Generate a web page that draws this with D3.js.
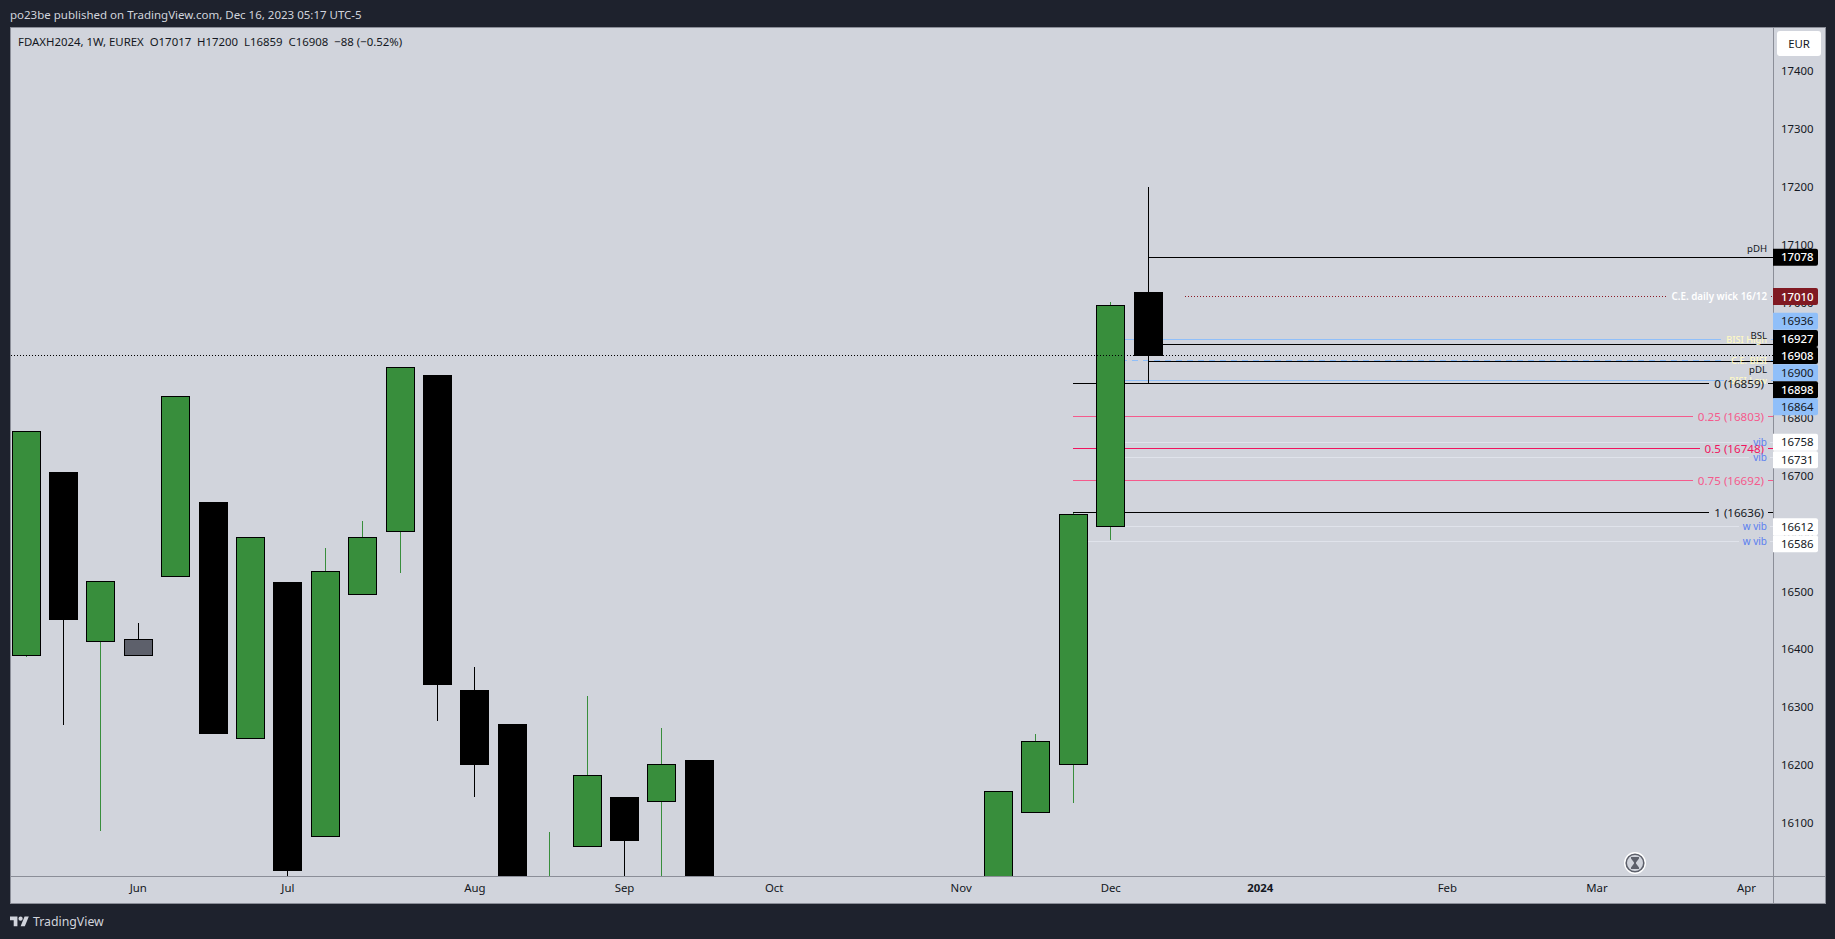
<!DOCTYPE html>
<html lang="en">
	<head>
		<meta charset="utf-8">
		<title>FDAXH2024 weekly</title>
		<script src="https://cdn.jsdelivr.net/npm/d3@7"></script>
		<style>
			html, body { margin: 0; padding: 0; background: #1e222d; overflow: hidden; }
			text { font-family: "Noto Sans", sans-serif; white-space: pre; }
		</style>
	</head>
	<body>
		<script>

			//Weekly bars that can be seen in the window (the ones in Oct are below it)
			let barDates = ["2023-05-15","2023-05-22","2023-05-29","2023-06-05","2023-06-12","2023-06-19","2023-06-26",
				"2023-07-03","2023-07-10","2023-07-17","2023-07-24","2023-07-31","2023-08-07","2023-08-14","2023-08-21",
				"2023-08-28","2023-09-04","2023-09-11","2023-09-18","2023-11-13","2023-11-20","2023-11-27","2023-12-04","2023-12-11"];
			let opens  = [16390,16705,16413,16390,16526,16653,16247,16516,16076,16496,16604,16873,16328,16269,15900,16060,16144,16137,16208,15950,16119,16201,16613,17017];
			let highs  = [16777,16705,16517,16445,16838,16653,16594,16516,16575,16622,16888,16873,16370,16269,16084,16319,16144,16264,16208,16154,16253,16636,17001,17200];
			let lows   = [16386,16269,16086,16390,16526,16254,16247,15990,16076,16496,16532,16275,16145,15950,15880,16060,15990,15990,15950,15950,16119,16134,16589,16859];
			let closes = [16777,16450,16517,16417,16838,16254,16594,16017,16535,16594,16888,16339,16200,15960,15990,16182,16069,16201,15960,16154,16241,16633,16995,16908];
			let grayBars = ["2023-06-05"];

			//Axis labels
			let priceTicks = [17400,17300,17200,17100,17000,16900,16800,16700,16600,16500,16400,16300,16200,16100];
			let monthDates = ["2023-06-05","2023-07-03","2023-08-07","2023-09-04","2023-10-02","2023-11-06","2023-12-04","2024-01-01","2024-02-05","2024-03-04","2024-04-01"];
			let monthLabels = ["Jun","Jul","Aug","Sep","Oct","Nov","Dec","2024","Feb","Mar","Apr"];

			//Drawn levels
			let levelValues = [17078,17010,16936,16927,16900,16898,16864,16859,16803,16748,16692,16636,16758,16731,16612,16586];
			let levelLabels = ["pDH","C.E. daily wick 16/12","BISI High","BSL","C.E. BISI","pDL","BISI Low","0 (16859)","0.25 (16803)","0.5 (16748)","0.75 (16692)","1 (16636)","vib","vib","w vib","w vib"];
			let levelKinds  = ["liq","wick","bisi","liq","ce","liq","bisi","fib0","fib","fibMid","fib","fib0","vib","vib","vib","vib"];
			let levelStarts = ["2023-12-11","2023-12-18","2023-12-04","2023-12-11","2023-12-04","2023-12-11","2023-12-04","2023-11-27","2023-11-27","2023-11-27","2023-11-27","2023-11-27","2023-12-04","2023-12-04","2023-12-04","2023-11-27"];

			//Price scale badges, top to bottom
			let badgeValues = [17078,17010,16936,16927,16908,16900,16898,16864,16758,16731,16612,16586];
			let badgeShift  = [0,0,-18,-6,0,12.5,28.4,25.7,0,2,0,2];
			let badgeKinds  = ["black","red","blue","black","black","blue","black","blue","white","white","white","white"];

			let lastClose = 16908;
			let headerText = "po23be published on TradingView.com, Dec 16, 2023 05:17 UTC-5";
			let legendText = "FDAXH2024, 1W, EUREX  O17017  H17200  L16859  C16908  \u221288 (\u22120.52%)";

			//Width and height
			let w = 1835;
			let h = 939;
			let pane = { left: 11, right: 1773, top: 28, bottom: 876, outer: 1825, foot: 903 };

			let lineStyles = {
				liq:    { color: "#000000", labelColor: "#131722", side: true, size: 9.6 },
				wick:   { color: "#8c1a26", dash: "1,2", labelColor: "#ffffff", weight: 600, pad: 5, size: 9.8 },
				bisi:   { color: "#90bff9", labelColor: "#fff9c4", pad: 5, weight: 500, size: 9.2 },
				ce:     { color: "#90bff9", dash: "6,5", labelColor: "#fff9c4", pad: 5, weight: 500, size: 9.2 },
				fib0:   { color: "#000000", labelColor: "#131722", size: 11.6, right: 9, pad: 5 },
				fib:    { color: "#f55a8c", labelColor: "#f55a8c", size: 11.6, right: 9, pad: 5 },
				fibMid: { color: "#f0145f", labelColor: "#f0145f", size: 11.6, right: 9, pad: 5 },
				vib:    { color: "#e0e3eb", labelColor: "#5a7ff0", pad: 4, size: 10 }
			};
			let badgeStyles = {
				black: { fill: "#000000", text: "#ffffff" },
				red:   { fill: "#801922", text: "#ffffff" },
				blue:  { fill: "#90bff9", text: "#131722" },
				white: { fill: "#ffffff", text: "#131722" }
			};

			let parse = s => new Date(s + "T00:00:00Z");

			let x = d3.scaleUtc()
						.domain([Date.UTC(2023, 4, 12, 6, 24), Date.UTC(2024, 3, 6, 1, 0)])
						.range([pane.left, pane.right]);

			let y = d3.scaleLinear()
						.domain([17474.7, 16007.6])
						.range([pane.top, pane.bottom]);

			let px = v => Math.floor(v) + 0.5;

			//Create SVG element
			let svg = d3.select("body")
						.append("svg")
						  .attr("width", w)
						  .attr("height", h)
						  .style("display", "block");

			svg.append("rect").attr("width", w).attr("height", h).attr("fill", "#1e222d");

			svg.append("text")
				.attr("x", 10).attr("y", 19)
				.attr("font-size", 11.5).attr("fill", "#d1d4dc")
				.text(headerText);

			//Chart frame
			svg.append("rect")
				.attr("x", 10.5).attr("y", 27.5)
				.attr("width", pane.outer - 10).attr("height", pane.foot - 27)
				.attr("fill", "#d1d4dc").attr("stroke", "#8b8e98");

			svg.append("defs").append("clipPath").attr("id", "paneClip")
				.append("rect")
				  .attr("x", pane.left).attr("y", pane.top)
				  .attr("width", pane.right - pane.left).attr("height", pane.bottom - pane.top);

			let plot = svg.append("g").attr("clip-path", "url(#paneClip)");

			//Levels, under the candles
			let levels = levelValues.map((v, i) => ({
				value: v, label: levelLabels[i], start: parse(levelStarts[i]), style: lineStyles[levelKinds[i]]
			}));
			let lineLayer = plot.append("g").attr("shape-rendering", "crispEdges");
			let candleLayer = plot.append("g").attr("shape-rendering", "crispEdges");
			let labelLayer = plot.append("g");

			levels.forEach(d => {
				let s = d.style;
				let yy = px(y(d.value));
				let textRight = pane.right - (s.right || 6);
				let label = labelLayer.append("text")
					.attr("x", textRight)
					.attr("y", s.side ? yy + (d.label === "pDL" ? 8 : -8.5) : yy)
					.attr("dy", "0.35em")
					.attr("text-anchor", "end")
					.attr("font-size", s.size)
					.attr("font-weight", s.weight || 400)
					.attr("fill", s.labelColor)
					.text(d.label);
				let segments = [[x(d.start), pane.right]];
				if (!s.side) {
					let len = label.node().getComputedTextLength();
					segments = [[x(d.start), textRight - len - s.pad], [textRight + s.pad - 1, pane.right]];
				}
				segments.forEach(seg => {
					lineLayer.append("line")
						.attr("x1", seg[0]).attr("x2", seg[1])
						.attr("y1", yy).attr("y2", yy)
						.attr("stroke", s.color)
						.attr("stroke-dasharray", s.dash || null);
				});
			});

			//Candles
			let bars = barDates.map((d, i) => ({
				date: parse(d), open: opens[i], high: highs[i], low: lows[i], close: closes[i], gray: grayBars.includes(d)
			}));

			let candles = candleLayer.selectAll("g.candle")
				.data(bars)
				.enter()
			  .append("g")
				.attr("class", "candle");

			let isUp = d => d.close > d.open && !d.gray;
			let cx = d => Math.round(x(d.date));

			candles.append("line")
				.attr("x1", d => cx(d) + 0.5).attr("x2", d => cx(d) + 0.5)
				.attr("y1", d => y(d.high)).attr("y2", d => y(d.low))
				.attr("stroke", d => isUp(d) ? "#388e3c" : "#000000");

			candles.append("rect")
				.attr("x", d => cx(d) - 13.5)
				.attr("width", 28)
				.attr("y", d => px(y(Math.max(d.open, d.close))))
				.attr("height", d => Math.abs(y(d.open) - y(d.close)))
				.attr("fill", d => d.gray ? "#5d606b" : isUp(d) ? "#388e3c" : "#000000")
				.attr("stroke", "#000000");

			//Last close, dotted over everything
			plot.append("line")
				.attr("x1", pane.left).attr("x2", pane.right)
				.attr("y1", px(y(lastClose))).attr("y2", px(y(lastClose)))
				.attr("stroke", "#000000")
				.attr("stroke-dasharray", "1,2")
				.attr("shape-rendering", "crispEdges");

			//Axes
			let yAxis = d3.axisRight(y).tickValues(priceTicks).tickFormat(d3.format("d")).tickSize(0).tickPadding(8);
			let xAxis = d3.axisBottom(x).tickValues(monthDates.map(parse)).tickFormat((d, i) => monthLabels[i]).tickSize(0).tickPadding(8);

			let yG = svg.append("g").attr("transform", `translate(${pane.right},0)`).call(yAxis);
			let xG = svg.append("g").attr("transform", `translate(0,${pane.bottom})`).call(xAxis);
			yG.select(".domain").remove();
			xG.select(".domain").remove();
			yG.selectAll("text").attr("font-size", 11.4).attr("font-family", '"Noto Sans", sans-serif').attr("fill", "#131722");
			xG.selectAll("text").attr("font-size", 11.4).attr("font-family", '"Noto Sans", sans-serif').attr("fill", "#131722")
				.attr("font-weight", (d, i) => monthLabels[i] === "2024" ? 700 : 400);

			svg.append("line").attr("x1", 11).attr("x2", pane.outer).attr("y1", pane.bottom + 0.5).attr("y2", pane.bottom + 0.5)
				.attr("stroke", "#8b8e98");
			svg.append("line").attr("x1", pane.right + 0.5).attr("x2", pane.right + 0.5).attr("y1", 28).attr("y2", pane.foot)
				.attr("stroke", "#8b8e98");

			//Price badges
			let badges = svg.append("g").selectAll("g")
				.data(badgeValues)
				.enter()
			  .append("g")
				.attr("transform", (d, i) => `translate(${pane.right},${y(d) + badgeShift[i]})`);

			badges.append("path")
				.attr("d", "M0,-8.5H43a2,2 0 0 1 2,2V6.5a2,2 0 0 1 -2,2H0Z")
				.attr("fill", (d, i) => badgeStyles[badgeKinds[i]].fill);

			badges.append("text")
				.attr("x", 8).attr("dy", "0.35em")
				.attr("font-size", 11.4)
				.attr("font-weight", (d, i) => badgeKinds[i] === "black" || badgeKinds[i] === "red" ? 500 : 400)
				.attr("fill", (d, i) => badgeStyles[badgeKinds[i]].text)
				.text(d => d);

			//Currency button
			svg.append("rect")
				.attr("x", 1777).attr("y", 31)
				.attr("width", 44).attr("height", 25).attr("rx", 3)
				.attr("fill", "#ffffff");
			svg.append("text")
				.attr("x", 1799).attr("y", 44).attr("dy", "0.35em")
				.attr("text-anchor", "middle").attr("font-size", 11.4).attr("fill", "#131722")
				.text("EUR");

			//Legend
			svg.append("text")
				.attr("x", 18).attr("y", 46)
				.attr("font-size", 11.4).attr("fill", "#131722")
				.text(legendText);

			//Hourglass marker
			let clock = svg.append("g").attr("transform", "translate(1635,863)");
			clock.append("circle").attr("r", 11).attr("fill", "#ffffff");
			clock.append("circle").attr("r", 8.8).attr("fill", "#d1d4dc").attr("stroke", "#5d606b").attr("stroke-width", 1.6);
			clock.append("path")
				.attr("d", "M-4,-6H4V-4.5L1,-0.5V0.5L4,4.5V6H-4V4.5L-1,0.5V-0.5L-4,-4.5Z")
				.attr("fill", "#5d606b");

			//Footer logo
			let logo = svg.append("g").attr("transform", "translate(10,914.5) scale(0.53)").attr("fill", "#d1d4dc");
			logo.append("path").attr("d", "M14 22H7V11H0V4h14v18zM28 22h-8l7.5-18h8L28 22z");
			logo.append("circle").attr("cx", 20).attr("cy", 8).attr("r", 4);
			svg.append("text")
				.attr("x", 33).attr("y", 925.5)
				.attr("font-size", 12.3).attr("fill", "#d1d4dc")
				.text("TradingView");

		</script>
	</body>
</html>
